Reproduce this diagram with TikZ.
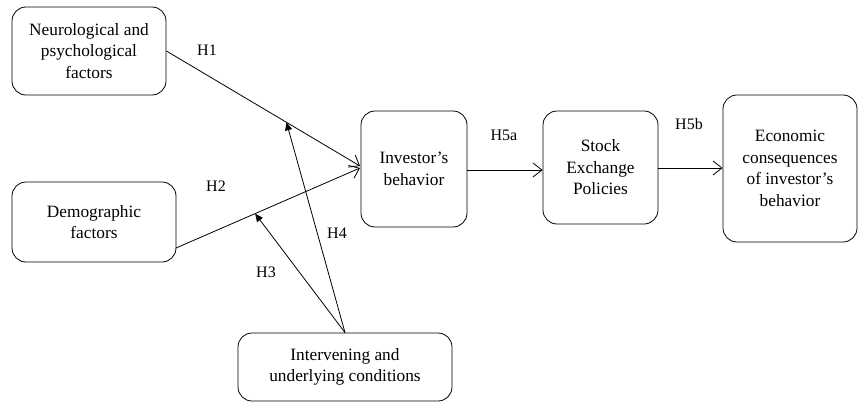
\documentclass[tikz,border=0pt]{standalone}
\usepackage{fontspec}
\setmainfont{Liberation Serif}
\usetikzlibrary{arrows.meta,calc}
\begin{document}
\begin{tikzpicture}[x=1pt,y=-1pt,
  box/.style={draw,line width=0.8pt,rounded corners=14pt,align=center,inner sep=0pt,
    font=\fontsize{17.3}{21.5}\selectfont},
  conn/.style={line width=0.8pt,-{Straight Barb[length=9pt,width=14pt,line width=0.8pt]}},
  modl/.style={line width=0.8pt,-{Triangle[length=8pt,width=7pt]}},
  lab/.style={font=\fontsize{16}{18}\selectfont,inner sep=0pt}]
\useasboundingbox (0,0) rectangle (859,404);
\node[box,minimum width=154pt,minimum height=88pt] (neuro) at (89,51) {Neurological and\\psychological\\factors};
\node[box,minimum width=164pt,minimum height=80pt] (demo) at (94,222) {Demographic\\factors};
\node[box,minimum width=106pt,minimum height=116pt] (inv) at (414,169) {Investor's\\behavior};
\node[box,minimum width=115pt,minimum height=113pt] (sep) at (600.5,167.5) {Stock\\Exchange\\Policies};
\node[box,minimum width=134pt,minimum height=147pt] (eco) at (790,168.5) {Economic\\consequences\\of investor's\\behavior};
\node[box,minimum width=214pt,minimum height=68pt] (int) at (345,367) {Intervening and\\underlying conditions};
\coordinate (n1) at (neuro.east);
\coordinate (d1) at (176,248);
\coordinate (i1) at (360,166);
\coordinate (i2) at (360,168);
\coordinate (m1) at ($(n1)!0.62!(i1)$);
\coordinate (m2) at ($(d1)!0.43!(i2)$);
\draw[conn] (n1) -- (i1);
\draw[conn] (d1) -- (i2);
\draw[modl] (int.north) -- (m1);
\draw[modl] (int.north) -- (m2);
\draw[conn] (inv.east |- 0,170) -- (sep.west |- 0,170);
\draw[conn] (sep.east |- 0,168) -- (eco.west |- 0,168);
\node[lab] (h1) at (207,50) {H1};
\node[lab] (h2) at (216,186) {H2};
\node[lab] (h3) at (266,272) {H3};
\node[lab] (h4) at (337,233) {H4};
\node[lab] (h5a) at (504,135) {H5a};
\node[lab] (h5b) at (689,124) {H5b};
\end{tikzpicture}
\end{document}
